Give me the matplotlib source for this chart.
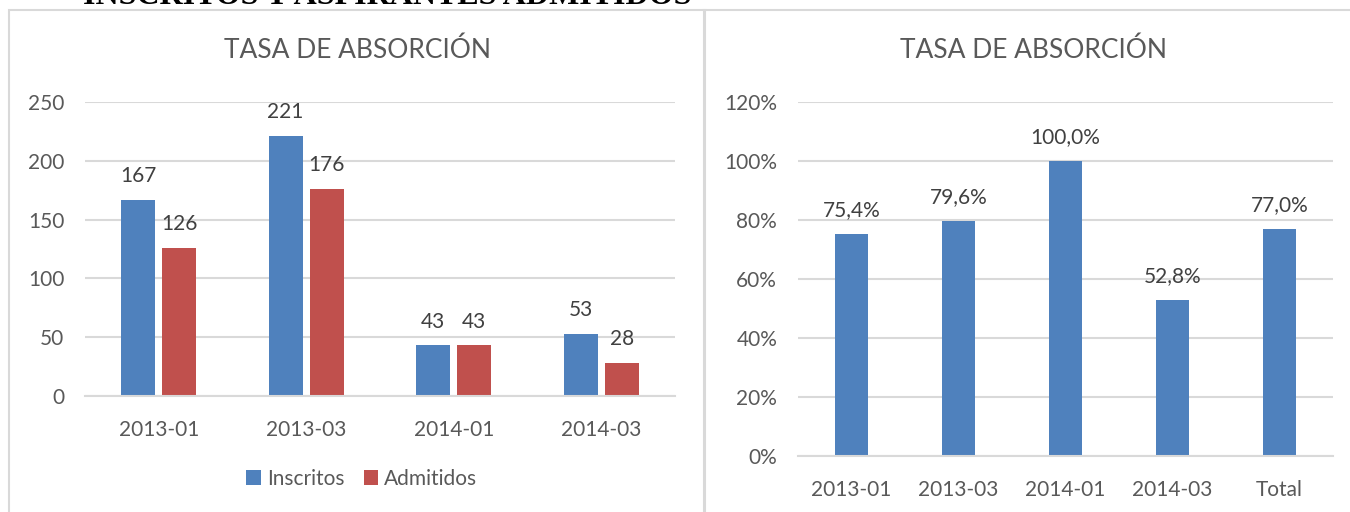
import matplotlib.pyplot as plt
import numpy as np
from matplotlib.patches import Rectangle
from matplotlib.ticker import FuncFormatter

plt.rcParams['font.family'] = ['Lato', 'DejaVu Sans']

periodos = ['2013-01', '2013-03', '2014-01', '2014-03']
inscritos = [167, 221, 43, 53]
admitidos = [126, 176, 43, 28]

tasa_cats = ['2013-01', '2013-03', '2014-01', '2014-03', 'Total']
tasa = [75.4, 79.6, 100.0, 52.8, 77.0]

azul = '#4F81BD'
rojo = '#C0504D'
gris_txt = '#595959'
gris_lbl = '#404040'
gris_grid = '#D9D9D9'

fig = plt.figure(figsize=(13.5, 5.12), dpi=100)

# recuadros de los graficos
fig.patches.append(Rectangle((9/1350, -0.1), 696/1350, 1.1 - 10/512, transform=fig.transFigure,
                             fill=False, edgecolor=gris_grid, lw=1.5))
fig.patches.append(Rectangle((704/1350, -0.1), 700/1350, 1.1 - 10/512, transform=fig.transFigure,
                             fill=False, edgecolor=gris_grid, lw=1.5))

# titulo cortado arriba
fig.text(387/1350, 1 - 4/512, 'INSCRITOS Y ASPIRANTES ADMITIDOS', family='Liberation Serif',
         fontweight='bold', fontsize=23, va='baseline', ha='center', color='black')


def estilo(ax):
    for s in ax.spines.values():
        s.set_visible(False)
    ax.spines['bottom'].set_visible(True)
    ax.spines['bottom'].set_color(gris_grid)
    ax.spines['bottom'].set_linewidth(1.5)
    ax.yaxis.grid(True, color=gris_grid, lw=1.5)
    ax.set_axisbelow(True)
    ax.tick_params(length=0, labelsize=15, colors=gris_txt)
    ax.tick_params(axis='y', pad=15)
    ax.tick_params(axis='x', pad=17)


# grafico izquierdo
ax1 = fig.add_axes([85/1350, 116/512, 590/1350, 294/512])
x = np.arange(len(periodos))
w = 0.23
b1 = ax1.bar(x - 0.14, inscritos, w, color=azul, label='Inscritos')
b2 = ax1.bar(x + 0.14, admitidos, w, color=rojo, label='Admitidos')
ax1.set_xlim(-0.5, len(periodos) - 0.5)
ax1.set_ylim(0, 250)
ax1.set_yticks(range(0, 251, 50))
ax1.set_xticks(x)
ax1.set_xticklabels(periodos)
estilo(ax1)
ax1.bar_label(b1, padding=10, fontsize=15, color=gris_lbl)
ax1.bar_label(b2, padding=10, fontsize=15, color=gris_lbl)
fig.text(357/1350, 1 - 50/512, 'TASA DE ABSORCIÓN', fontsize=19, color=gris_txt,
         ha='center', va='center')
fig.legend(handles=[b1, b2], loc='center', bbox_to_anchor=(362/1350, 1 - 479/512), ncol=2,
           frameon=False, fontsize=15, labelcolor=gris_txt, handlelength=0.7, handleheight=0.7,
           handletextpad=0.3, columnspacing=0.9)

# grafico derecho
ax2 = fig.add_axes([798/1350, 56/512, 535/1350, 354/512])
x2 = np.arange(len(tasa_cats))
b3 = ax2.bar(x2, np.array(tasa) / 100, 0.31, color=azul)
ax2.set_xlim(-0.5, len(tasa_cats) - 0.5)
ax2.set_ylim(0, 1.2)
ax2.set_yticks(np.arange(0, 1.21, 0.2))
ax2.yaxis.set_major_formatter(FuncFormatter(lambda v, p: '%d%%' % round(v * 100)))
ax2.set_xticks(x2)
ax2.set_xticklabels(tasa_cats)
estilo(ax2)
ax2.bar_label(b3, labels=[('%.1f%%' % t).replace('.', ',') for t in tasa], padding=10,
              fontsize=15, color=gris_lbl)
fig.text(1033/1350, 1 - 50/512, 'TASA DE ABSORCIÓN', fontsize=19, color=gris_txt,
         ha='center', va='center')

fig.savefig('out.png', dpi=100)
